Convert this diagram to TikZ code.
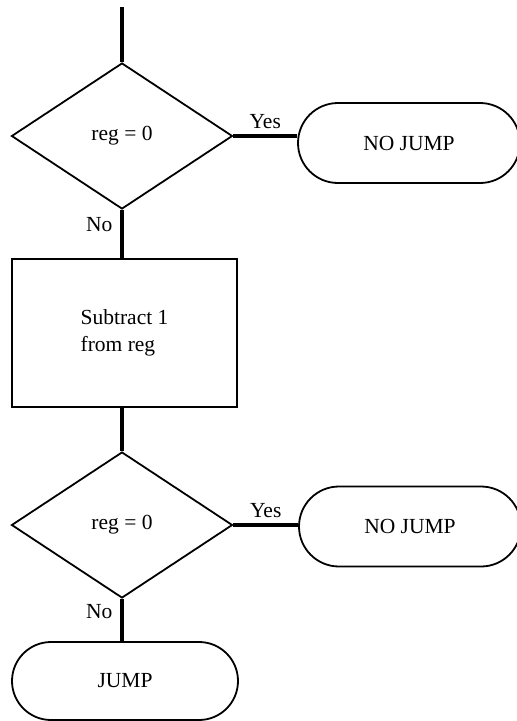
\documentclass[tikz,border=0pt]{standalone}
\usepackage{fontspec}
\setmainfont{Liberation Serif}
\usetikzlibrary{shapes.geometric,shapes.misc}
\begin{document}
\begin{tikzpicture}[x=1pt,y=-1pt,
  every node/.style={font=\fontsize{21.5}{27}\selectfont},
  decision/.style={draw, shape=diamond, line width=1.8pt, minimum width=221pt, minimum height=146pt, inner sep=0pt},
  terminal/.style={draw, rounded rectangle, line width=1.8pt, minimum width=222pt, minimum height=80pt, inner sep=0pt},
  process/.style={draw, rectangle, line width=1.8pt, minimum width=225pt, minimum height=148pt, align=left},
  flow/.style={line width=3.4pt},
  lbl/.style={inner sep=0pt}]
\clip (0,0) rectangle (517,721);
\coordinate (start) at (122,7);
\node[decision] (d1) at (122,136) {reg = 0};
\node[terminal] (t1) at (409,143) {NO JUMP};
\node[process] (p) at (124.5,333) {Subtract 1\\from reg};
\node[decision] (d2) at (122,525) {reg = 0};
\node[terminal] (t2) at (410,526.5) {NO JUMP};
\node[terminal, minimum width=226pt, minimum height=78pt] (j) at (125,681) {JUMP};
\draw[flow] (start) -- (d1.north);
\draw[flow] (d1.east) -- node[lbl, above, yshift=6pt]{Yes} (d1.east -| t1.west);
\draw[flow] (d1.south) -- node[lbl, pos=0.3, left=8pt]{No} (d1.south |- p.north);
\draw[flow] (d2.north |- p.south) -- (d2.north);
\draw[flow] (d2.east) -- node[lbl, above, yshift=6pt]{Yes} (d2.east -| t2.west);
\draw[flow] (d2.south) -- node[lbl, pos=0.3, left=8pt]{No} (d2.south |- j.north);
\end{tikzpicture}
\end{document}
